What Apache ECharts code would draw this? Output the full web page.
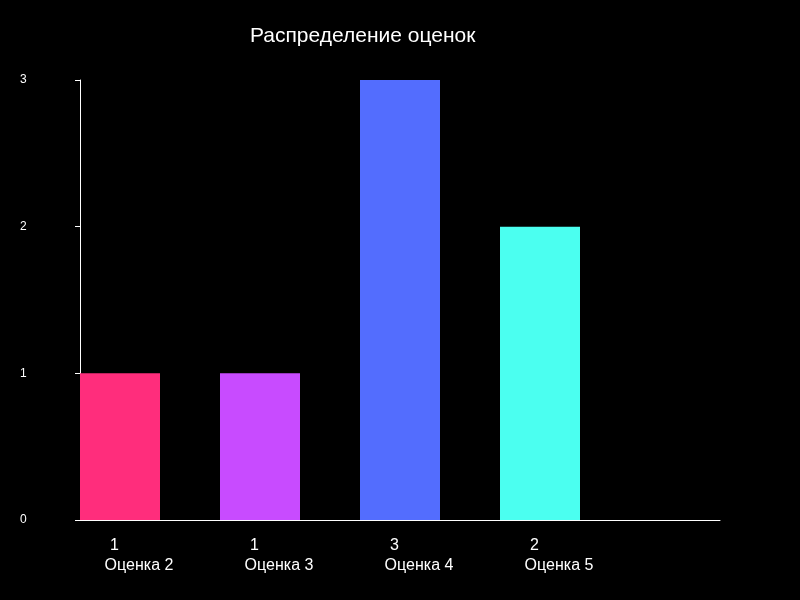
<!DOCTYPE html>
<html><head><meta charset="utf-8">
<script src="https://cdn.jsdelivr.net/npm/echarts@6/dist/echarts.min.js"></script>
<style>html,body{margin:0;padding:0;background:#000}#c{width:800px;height:600px}</style>
</head><body><div id="c"></div>
<script>
const categories = ['Оценка 2', 'Оценка 3', 'Оценка 4', 'Оценка 5'];
const counts = [1, 1, 3, 2];
const colors = ['#FF2D7C', '#C84BFF', '#536DFE', '#4BFFF0'];
const yTicks = [0, 1, 2, 3];

const chart = echarts.init(document.getElementById('c'));
chart.setOption({
  backgroundColor: '#000',
  animation: false,
  title: {
    text: 'Распределение оценок',
    left: 245, top: 21,
    textStyle: { color: '#fff', fontSize: 21, fontWeight: 'normal', fontFamily: 'Liberation Sans, Arial, sans-serif' }
  },
  grid: [
    { left: 80, top: 80, width: 560, height: 440 },
    { left: 80, right: 80, top: 80, height: 440 }
  ],
  xAxis: [
    {
      type: 'category', gridIndex: 0, data: categories,
      axisLine: { show: true, lineStyle: { color: '#fff', width: 1 } },
      axisTick: { show: false },
      axisLabel: {
        margin: 16,
        formatter: function (v, i) { return '{v|' + counts[i] + '}\n{c|' + v + '}'; },
        rich: {
          v: { color: '#fff', fontSize: 16, lineHeight: 20, fontFamily: 'Liberation Sans, Arial, sans-serif', padding: [0, 71, 0, 0] },
          c: { color: '#fff', fontSize: 16, lineHeight: 20, fontFamily: 'Liberation Sans, Arial, sans-serif', padding: [0, 22, 0, 0] }
        }
      }
    },
    {
      type: 'category', gridIndex: 1, data: [],
      axisLine: { show: true, lineStyle: { color: '#fff', width: 1 } },
      axisTick: { show: false }, axisLabel: { show: false }, splitLine: { show: false }
    }
  ],
  yAxis: [
    {
      type: 'value', gridIndex: 0, min: yTicks[0], max: yTicks[yTicks.length - 1], interval: 1,
      axisLine: { show: true, lineStyle: { color: '#fff', width: 1 } },
      axisTick: { show: true, length: 5, lineStyle: { color: '#fff' } },
      splitLine: { show: false },
      axisLabel: { color: '#fff', fontSize: 12, align: 'left', margin: 60, fontFamily: 'Liberation Sans, Arial, sans-serif' }
    },
    { type: 'value', gridIndex: 1, show: false }
  ],
  series: [
    {
      type: 'bar', xAxisIndex: 0, yAxisIndex: 0, barWidth: 80, barGap: '0%',
      data: counts.map((v, i) => ({ value: v, itemStyle: { color: colors[i] } }))
    },
    {
      type: 'bar', xAxisIndex: 0, yAxisIndex: 0, barWidth: 60, silent: true,
      itemStyle: { color: 'rgba(0,0,0,0)' },
      data: counts
    }
  ]
});
</script></body></html>
